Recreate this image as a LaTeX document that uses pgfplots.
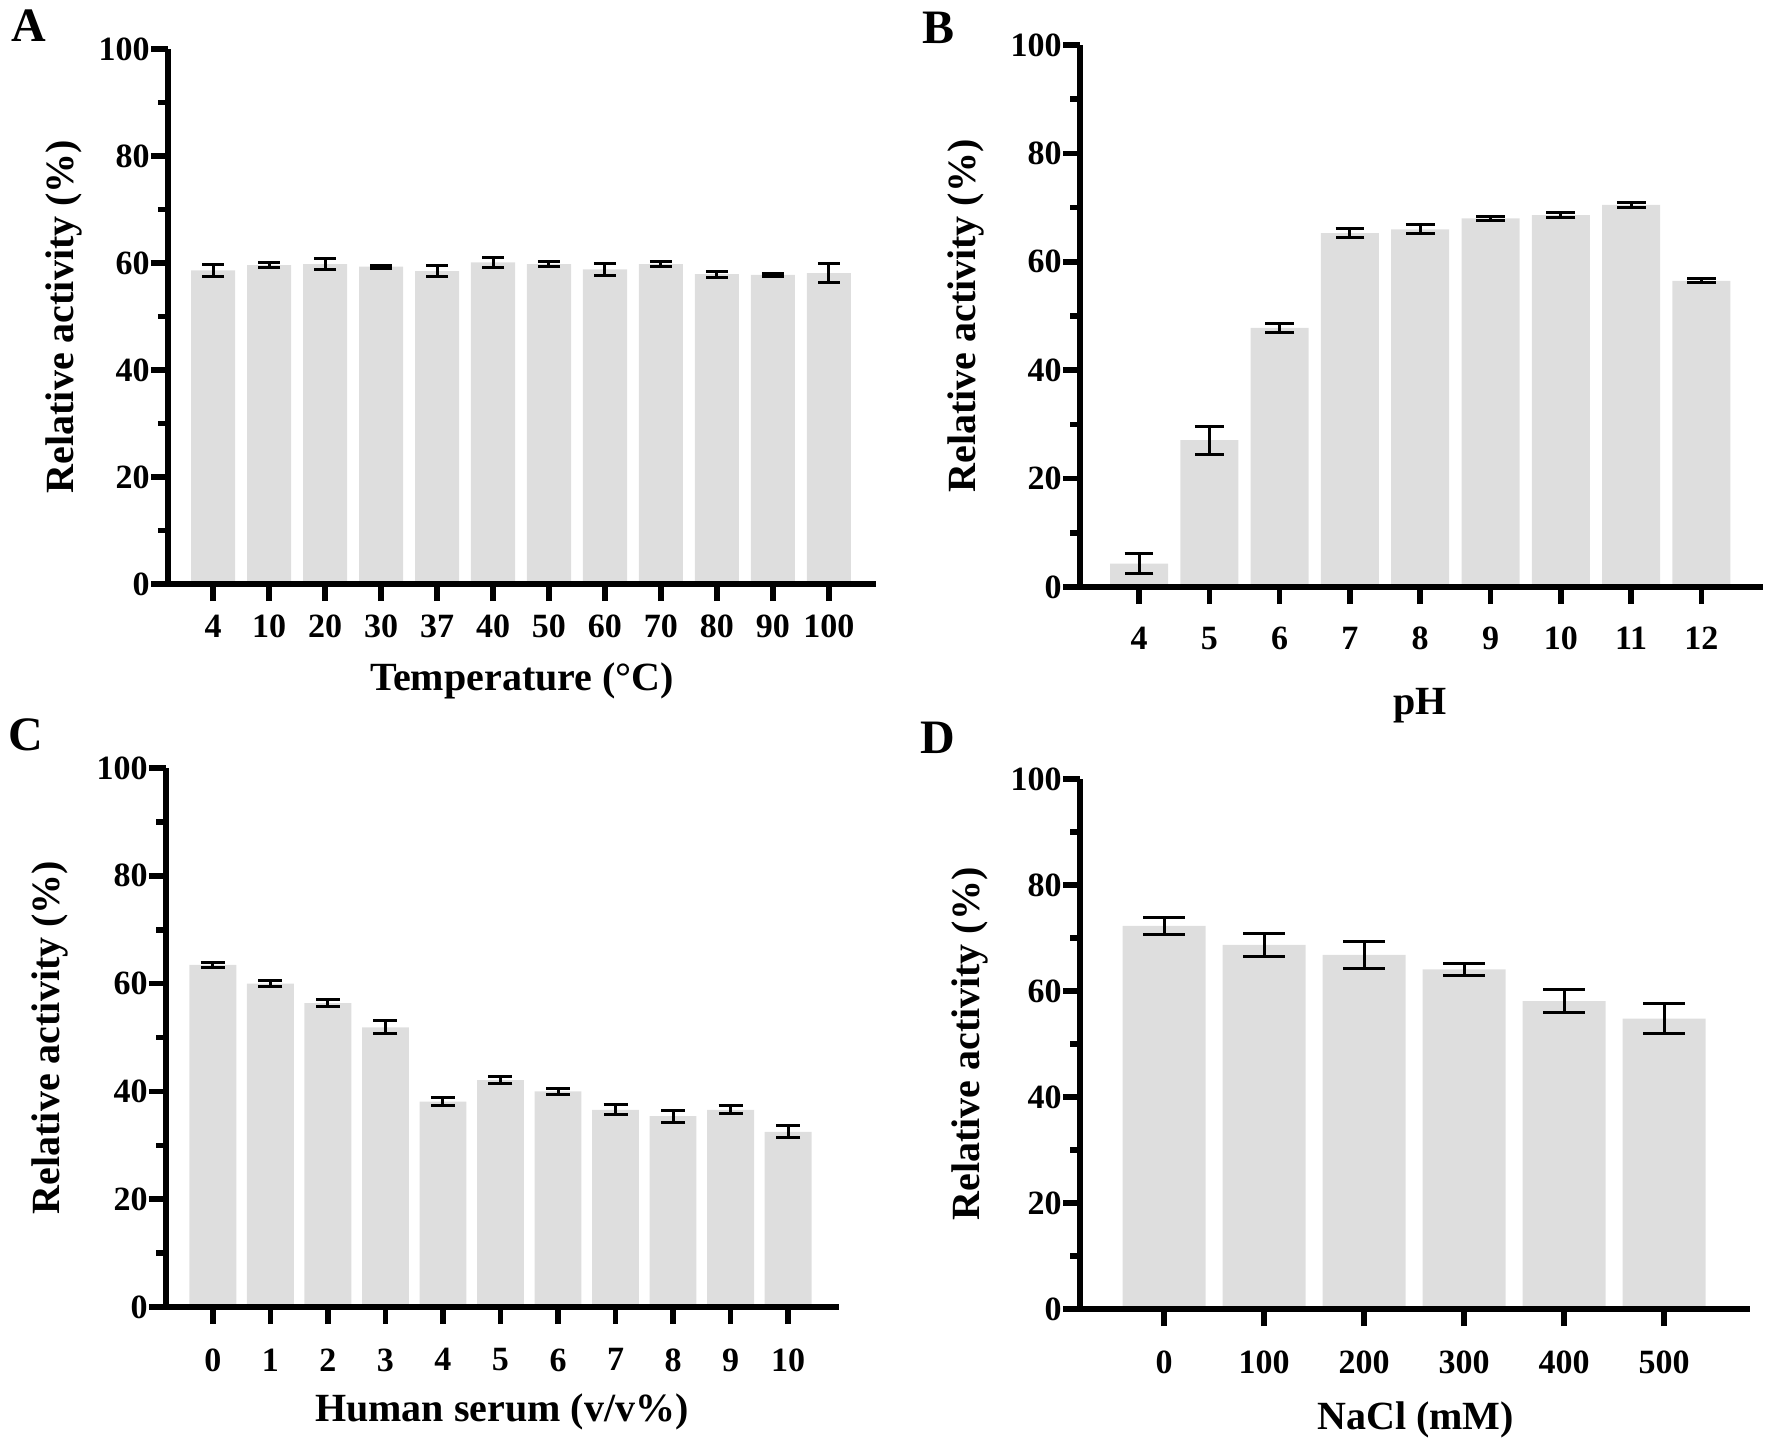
\documentclass[border=0pt]{standalone}
\usepackage{fontspec}
\setmainfont{Liberation Serif}
\usepackage{pgfplots}
\pgfplotsset{compat=1.18}
\definecolor{barGray}{RGB}{222,222,222}
\pgfplotsset{
  panel/.style={
    scale only axis,
    axis lines*=left,
    axis line style={line width=1.4pt,-},
    ymin=0, ymax=100, ytick={0,20,40,60,80,100},
    minor y tick num=1,
    ybar,
    tick align=outside,
    xtick align=outside, ytick align=outside,
    xtick pos=bottom, ytick pos=left,
    major tick length=4.25pt, minor tick length=2.5pt,
    tick style={black,line width=1.4pt},
    axis on top,
    /pgf/number format/assume math mode=true,
    tick label style={font=\fontsize{8.5}{10}\selectfont\bfseries},
    yticklabel style={xshift=3.2pt},
    label style={font=\fontsize{10}{12}\selectfont\bfseries},
    ylabel={Relative activity (\%)},
  },
  bars/.style={fill=barGray, draw=none, bar width=#1,
    error bars/.cd, y dir=both, y explicit,
    error bar style={black,line width=0.75pt},
  },
}
\begin{document}
\begin{tikzpicture}
% Panel A
\begin{axis}[panel,
  at={(42pt,216.25pt)}, anchor=south west,
  width=177pt, height=133.75pt,
  xmin=-0.804, xmax=11.84,
  xtick={0,...,11},
  xticklabels={4,10,20,30,37,40,50,60,70,80,90,100},
  xticklabel style={anchor=north,yshift=0pt},
  xlabel={Temperature (°C)},
  xlabel style={at={(axis description cs:0.5,-0.181)},anchor=center},
  ylabel style={at={(axis description cs:-0.147,0.5)},anchor=center},
]
\addplot[bars=0.786, error mark options={rotate=90,black,line width=0.75pt,mark size=2.75pt}] coordinates {
(0,58.6) +- (0,1.1)
(1,59.6) +- (0,0.5)
(2,59.8) +- (0,1.1)
(3,59.3) +- (0,0.3)
(4,58.5) +- (0,1.0)
(5,60.1) +- (0,1.0)
(6,59.8) +- (0,0.4)
(7,58.8) +- (0,1.1)
(8,59.8) +- (0,0.4)
(9,57.9) +- (0,0.6)
(10,57.8) +- (0,0.3)
(11,58.1) +- (0,1.8)
};
\end{axis}
% Panel B
\begin{axis}[panel,
  at={(270pt,215.5pt)}, anchor=south west,
  width=170.75pt, height=135.5pt,
  xmin=-0.839, xmax=8.876,
  xtick={0,...,8},
  xticklabels={4,5,6,7,8,9,10,11,12},
  xticklabel style={anchor=north,yshift=-2.2pt},
  xlabel={pH},
  xlabel style={at={(axis description cs:0.498,-0.218)},anchor=center},
  ylabel style={at={(axis description cs:-0.167,0.5)},anchor=center},
]
\addplot[bars=0.825, error mark options={rotate=90,black,line width=0.75pt,mark size=3.6pt}] coordinates {
(0,4.3) +- (0,1.9)
(1,27.1) +- (0,2.6)
(2,47.8) +- (0,0.9)
(3,65.3) +- (0,0.9)
(4,66.0) +- (0,0.8)
(5,68.0) +- (0,0.3)
(6,68.6) +- (0,0.5)
(7,70.5) +- (0,0.5)
(8,56.5) +- (0,0.4)
};
\end{axis}
% Panel C
\begin{axis}[panel,
  at={(41.5pt,35.5pt)}, anchor=south west,
  width=168.25pt, height=134.75pt,
  xmin=-0.817, xmax=10.887,
  xtick={0,...,10},
  xticklabels={0,1,2,3,4,5,6,7,8,9,10},
  xticklabel style={anchor=north,yshift=-2.6pt},
  xlabel={Human serum (v/v\%)},
  xlabel style={at={(axis description cs:0.499,-0.195)},anchor=center},
  ylabel style={at={(axis description cs:-0.172,0.5)},anchor=center},
]
\addplot[bars=0.817, error mark options={rotate=90,black,line width=0.75pt,mark size=3pt}] coordinates {
(0,63.5) +- (0,0.5)
(1,60.0) +- (0,0.5)
(2,56.4) +- (0,0.6)
(3,51.9) +- (0,1.2)
(4,38.1) +- (0,0.7)
(5,42.1) +- (0,0.7)
(6,40.0) +- (0,0.6)
(7,36.6) +- (0,0.9)
(8,35.4) +- (0,1.1)
(9,36.6) +- (0,0.7)
(10,32.5) +- (0,1.1)
};
\end{axis}
% Panel D
\begin{axis}[panel,
  at={(270pt,35pt)}, anchor=south west,
  width=167.5pt, height=132.5pt,
  xmin=-0.84, xmax=5.86,
  xtick={0,...,5},
  xticklabels={0,100,200,300,400,500},
  xticklabel style={anchor=north,yshift=-2.6pt},
  xlabel={NaCl (mM)},
  xlabel style={at={(axis description cs:0.501,-0.209)},anchor=center},
  ylabel style={at={(axis description cs:-0.164,0.5)},anchor=center},
]
\addplot[bars=0.83, error mark options={rotate=90,black,line width=0.75pt,mark size=5.2pt}] coordinates {
(0,72.3) +- (0,1.6)
(1,68.7) +- (0,2.2)
(2,66.8) +- (0,2.5)
(3,64.1) +- (0,1.1)
(4,58.1) +- (0,2.2)
(5,54.8) +- (0,2.8)
};
\end{axis}
\node[font=\fontsize{12}{14}\selectfont\bfseries] at (7.25pt,355.75pt) {A};
\node[font=\fontsize{12}{14}\selectfont\bfseries] at (234.5pt,355.4pt) {B};
\node[font=\fontsize{12}{14}\selectfont\bfseries] at (6.5pt,178.5pt) {C};
\node[font=\fontsize{12}{14}\selectfont\bfseries] at (234.5pt,177.9pt) {D};
\pgfresetboundingbox
\path[use as bounding box] (0pt,0pt) rectangle (443pt,362.25pt);
\end{tikzpicture}
\end{document}
